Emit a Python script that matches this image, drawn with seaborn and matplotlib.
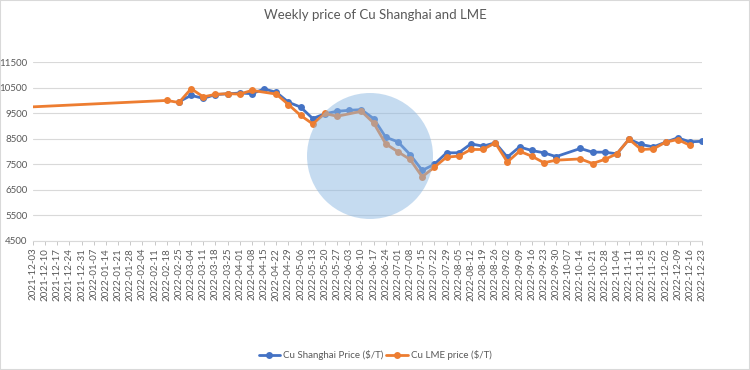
import numpy as np
import pandas as pd
import seaborn as sns
import matplotlib.pyplot as plt
from matplotlib.patches import Circle, Rectangle

# semanas (eixo de categorias)
semanas = pd.date_range("2021-12-03", "2022-12-23", freq="7D").strftime("%Y-%m-%d").tolist()

# Cu Shanghai ($/T), None = sem dado
shanghai = [None] * 12 + [
    9950, 10200, 10080, 10230, 10260, 10290, 10265, 10450, 10320, 9930,
    9740, 9290, 9480, 9575, 9615, 9640, 9290, 8560, 8380, 7880,
    7260, 7500, 7950, 7950, 8300, 8210, 8340, 7780, 8180, 8040,
    7950, 7800, None, 8120, 7975, 7975, 7910, 8480, 8275, 8180,
    8365, 8535, 8380, 8400]

# Cu LME ($/T)
lme = [9750] + [None] * 10 + [
    10000, 9920, 10460, 10140, 10240, 10265, 10250, 10395, None, 10250,
    9840, 9415, 9080, 9490, 9380, None, 9575, 9120, 8300, 7990,
    7690, 7010, 7390, 7780, 7820, 8080, 8080, 8340, 7590, 8010,
    7820, 7560, 7660, None, 7710, 7530, 7690, 7910, 8480, 8080,
    8100, 8365, 8470, 8245, None]

tabela = pd.DataFrame({
    "pos": np.arange(len(semanas)),
    "semana": semanas,
    "Cu Shanghai Price ($/T)": pd.array(shanghai, dtype="Float64").astype(float),
    "Cu LME price ($/T)": pd.array(lme, dtype="Float64").astype(float),
})

sns.set_style("white")
plt.rcParams["font.family"] = ["Lato", "DejaVu Sans"]

azul = "#4472C4"
laranja = "#ED7D31"
cinza = "#595959"

fig = plt.figure(figsize=(7.5, 3.7), dpi=100)
ax = fig.add_axes([0.044, 0.349, 0.892, 0.483])

# marca d'agua (circulo azul claro), em pixels da figura
fig.add_artist(Circle((370, 370 - 156), 63, transform=None, facecolor="#8DB8E2",
                      alpha=0.5, edgecolor="none", zorder=0.5))

blue = tabela.dropna(subset=["Cu Shanghai Price ($/T)"])
orange = tabela.dropna(subset=["Cu LME price ($/T)"])

sns.lineplot(data=blue, x="pos", y="Cu Shanghai Price ($/T)", ax=ax, color=azul,
             lw=2, marker="o", markersize=5, markeredgewidth=0,
             label="Cu Shanghai Price ($/T)", zorder=3)
sns.lineplot(data=orange, x="pos", y="Cu LME price ($/T)", ax=ax, color=laranja,
             lw=2, marker="o", markersize=5, markeredgewidth=0,
             markevery=list(range(1, len(orange))),
             label="Cu LME price ($/T)", zorder=4)

ax.set_xlim(0, len(semanas) - 1)
ax.set_ylim(4500, 11500)
ax.set_yticks(range(4500, 11501, 1000))
ax.set_xticks(tabela["pos"])
ax.set_xticklabels(semanas, rotation=90, fontsize=7, color=cinza)
ax.tick_params(axis="y", labelsize=7, labelcolor=cinza, length=0, pad=4)
ax.tick_params(axis="x", length=3, width=0.6, color="#BFBFBF", pad=2, bottom=True)
ax.set_xlabel("")
ax.set_ylabel("")
ax.grid(axis="y", color="#D9D9D9", lw=0.8)
for lado in ["top", "right", "left"]:
    ax.spines[lado].set_visible(False)
ax.spines["bottom"].set_color("#D9D9D9")
ax.set_facecolor("none")

fig.suptitle("Weekly price of Cu Shanghai and LME", y=0.975, fontsize=9.5, color=cinza)

ax.legend_.remove()
h, l = ax.get_legend_handles_labels()
fig.legend(h, l, loc="center", bbox_to_anchor=(0.5, 0.04), ncol=2, frameon=False,
           fontsize=7, labelcolor=cinza, handlelength=2.2, handletextpad=0.3,
           columnspacing=0.3)

fig.add_artist(Rectangle((0, 0), 1, 1, transform=fig.transFigure, fill=False,
                         ec="#D9D9D9", lw=1.5))

fig.savefig("out.png", dpi=100)
